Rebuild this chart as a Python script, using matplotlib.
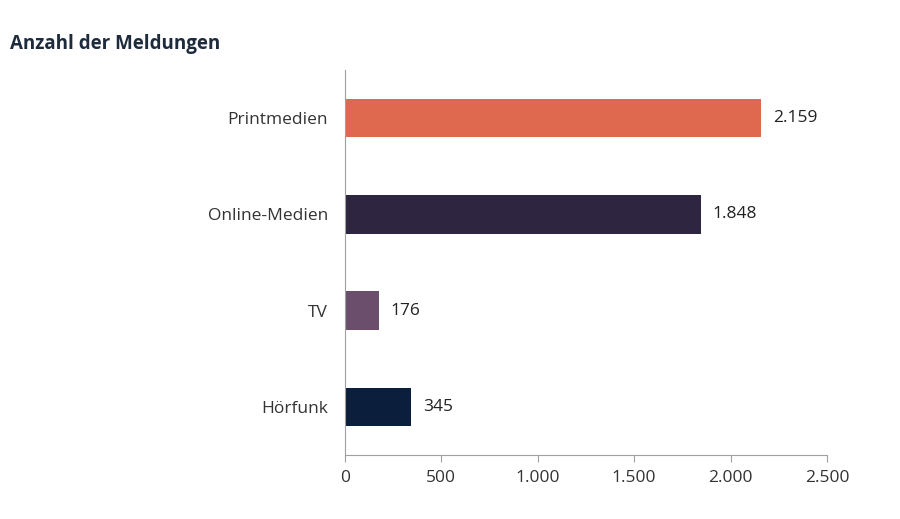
import matplotlib.pyplot as plt

categories = ['Printmedien', 'Online-Medien', 'TV', 'Hörfunk']
values = [2159, 1848, 176, 345]
colors = ['#DF694E', '#2E2541', '#6A4E6C', '#0B1F3C']
xticks = [0, 500, 1000, 1500, 2000, 2500]
xtick_labels = ['0', '500', '1.000', '1.500', '2.000', '2.500']
value_labels = ['2.159', '1.848', '176', '345']

plt.rcParams['font.family'] = ['Open Sans', 'DejaVu Sans']

fig = plt.figure(figsize=(9, 5.19), dpi=100)
ax = fig.add_axes([0.383, 0.123, 0.536, 0.742])

ypos = list(range(len(categories)))
ax.barh(ypos, values, height=0.4, color=colors)
for y, v, lab in zip(ypos, values, value_labels):
    ax.text(v + 60, y, lab, va='center', ha='left', fontsize=12.5, color='#222222')

ax.set_xlim(0, 2500)
ax.set_ylim(3.5, -0.5)
ax.set_yticks(ypos)
ax.set_yticklabels(categories, fontsize=12.5, color='#333333')
ax.set_xticks(xticks)
ax.set_xticklabels(xtick_labels, fontsize=12.5, color='#333333')

for s in ['top', 'right']:
    ax.spines[s].set_visible(False)
for s in ['left', 'bottom']:
    ax.spines[s].set_color('#A0A0A0')
ax.tick_params(axis='y', length=0, pad=12)
ax.tick_params(axis='x', length=5, color='#A0A0A0', pad=6)

fig.text(0.011, 0.915, 'Anzahl der Meldungen', fontsize=13.5, fontweight='bold',
         color='#1E2B3C', ha='left', va='center')

fig.savefig('out.png', dpi=100)
